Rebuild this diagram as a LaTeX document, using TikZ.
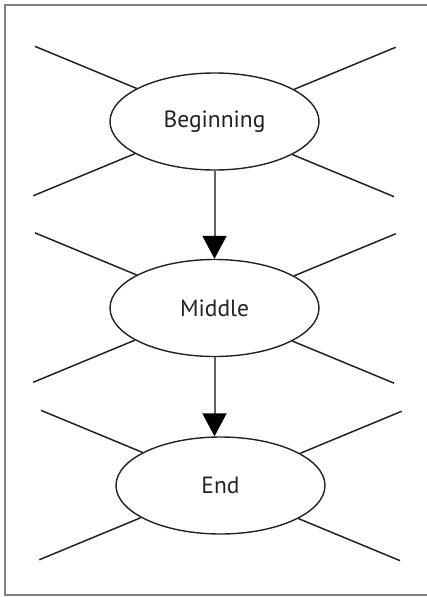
\documentclass[tikz,border=0pt]{standalone}
\usepackage{fontspec}
\setmainfont{PT Sans}
\usepackage{tikz}
\usetikzlibrary{shapes.geometric,arrows.meta}

\definecolor{framegray}{HTML}{808080}
\definecolor{shaftgray}{HTML}{606060}
\definecolor{inkdark}{HTML}{222222}

\begin{document}
\begin{tikzpicture}[x=1pt,y=-1pt,
	stage/.style={ellipse,draw=inkdark,line width=1.4pt,fill=white,
		minimum width=209pt,minimum height=97pt,inner sep=0pt,
		text=inkdark,font=\fontsize{23.5}{28}\selectfont},
	spoke/.style={draw=inkdark,line width=1.5pt},
	flow/.style={draw=shaftgray,line width=2pt,
		-{Triangle[width=24pt,length=23pt,color=black]}}]
	\useasboundingbox (0,0) rectangle (427,597);
	\draw[framegray,line width=2.5pt] (427,5) -- (5,5) -- (5,595) -- (427,595);
	\node[stage] (beg) at (214.5,121.5) {Beginning};
	\node[stage] (mid) at (214.5,308) {Middle};
	\node[stage] (end) at (220.5,485.5) {End};
	\foreach \n in {beg,mid,end}
	\foreach \a in {22.5,157.5,202.5,337.5}
	\draw[spoke] (\n.\a) -- ++(\a:110pt) coordinate (\n-\a);
	\draw[flow] (beg.south) -- (mid.north);
	\draw[flow] (mid.south) -- (mid.south |- end.north);
\end{tikzpicture}
\end{document}
